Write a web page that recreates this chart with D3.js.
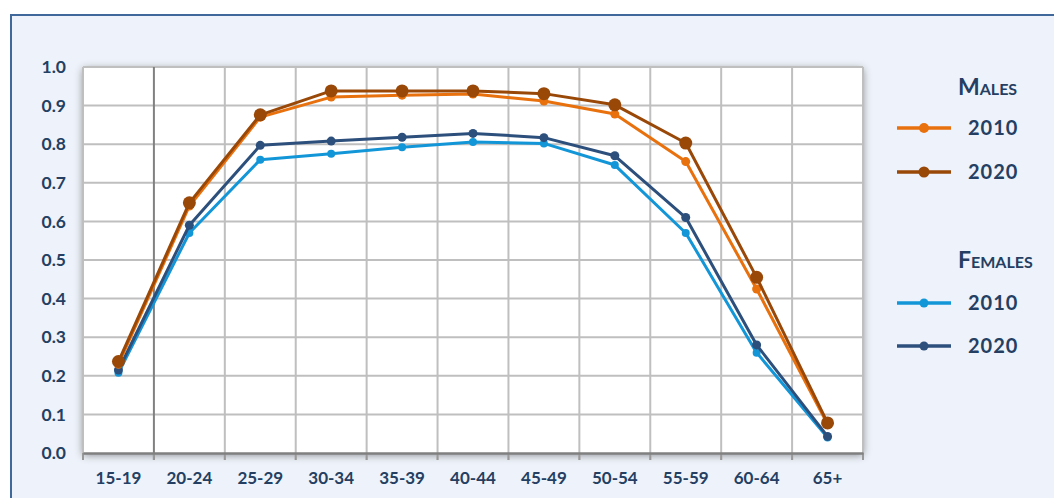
<!DOCTYPE html>
<html><head><meta charset="utf-8">
<script src="https://cdn.jsdelivr.net/npm/d3@7"></script>
<style>
html,body{margin:0;padding:0;background:#fff;}
svg{display:block;font-family:Lato,"Open Sans",sans-serif;}
</style></head>
<body><svg id="c" width="1054" height="498"></svg>
<script>
const categories = ["15-19","20-24","25-29","30-34","35-39","40-44","45-49","50-54","55-59","60-64","65+"];
const males2010   = [0.23, 0.64, 0.87, 0.922, 0.927, 0.93, 0.912, 0.878, 0.755, 0.425, 0.075];
const males2020   = [0.237, 0.648, 0.876, 0.938, 0.938, 0.938, 0.931, 0.902, 0.803, 0.455, 0.078];
const females2010 = [0.208, 0.57, 0.76, 0.775, 0.792, 0.806, 0.802, 0.746, 0.57, 0.26, 0.04];
const females2020 = [0.215, 0.59, 0.797, 0.808, 0.818, 0.828, 0.817, 0.77, 0.61, 0.28, 0.043];
const yTicks = [0,0.1,0.2,0.3,0.4,0.5,0.6,0.7,0.8,0.9,1.0];

const series = [
  {group:"Males", name:"2010", values:males2010, color:"#E8710E", r:4.5, lr:5},
  {group:"Males", name:"2020", values:males2020, color:"#994808", r:6.5, lr:5.5},
  {group:"Females", name:"2010", values:females2010, color:"#1396D8", r:4, lr:4.5},
  {group:"Females", name:"2020", values:females2020, color:"#2C4F7C", r:4.5, lr:4.5}
];

const svg = d3.select("#c");
const textColor = "#243F62";

// outer panel
svg.append("rect").attr("x",11).attr("y",15).attr("width",1060).attr("height",500)
  .attr("fill","#EEF2FA").attr("stroke","#41689A").attr("stroke-width",2);

const defs = svg.append("defs");
const f = defs.append("filter").attr("id","sh").attr("x","-10%").attr("y","-10%").attr("width","120%").attr("height","120%");
f.append("feDropShadow").attr("dx",0).attr("dy",2).attr("stdDeviation",4).attr("flood-color","#000").attr("flood-opacity",0.45);

const L = 83, T = 67, R = 863, B = 453;
const x = d3.scaleBand().domain(categories).range([L,R]).padding(0);
const y = d3.scaleLinear().domain([0,1]).range([B,T]);

svg.append("rect").attr("x",L).attr("y",T).attr("width",R-L).attr("height",B-T)
  .attr("fill","#fff").attr("filter","url(#sh)");

const g = svg.append("g");
g.selectAll(".hg").data(yTicks.slice(1)).join("line")
  .attr("x1",L).attr("x2",R).attr("y1",d=>y(d)).attr("y2",d=>y(d))
  .attr("stroke","#BFBFBF").attr("stroke-width",2);
const bounds = categories.map(c=>x(c)).concat([R]);
g.selectAll(".vg").data(bounds).join("line")
  .attr("x1",d=>d).attr("x2",d=>d).attr("y1",T).attr("y2",B+7)
  .attr("stroke",(d,i)=> i===1 ? "#808080" : "#BFBFBF").attr("stroke-width",2);
const xa = svg.append("g").attr("transform",`translate(0,${B})`)
  .call(d3.axisBottom(x).tickSize(0).tickPadding(19));
xa.select(".domain").attr("stroke","#808080").attr("stroke-width",2.5);
xa.selectAll("text").attr("fill",textColor).attr("font-size",17).attr("font-weight",700)
  .attr("font-family","Lato,'Open Sans',sans-serif");
g.selectAll(".xt").data(bounds).join("line")
  .attr("x1",d=>d).attr("x2",d=>d).attr("y1",B).attr("y2",B+7)
  .attr("stroke","#999").attr("stroke-width",2);

const ya = svg.append("g").attr("transform",`translate(${L},0)`)
  .call(d3.axisLeft(y).tickValues(yTicks).tickFormat(d3.format(".1f")).tickSize(0).tickPadding(17));
ya.select(".domain").remove();
ya.selectAll("text").attr("fill",textColor).attr("font-size",17.5).attr("font-weight",700)
  .attr("font-family","Lato,'Open Sans',sans-serif");

const line = d3.line().x((d,i)=>x(categories[i])+x.bandwidth()/2).y(d=>y(d));
const order = [2,3,0,1];
order.forEach(si=>{
  const s = series[si];
  svg.append("path").datum(s.values).attr("d",line).attr("fill","none")
    .attr("stroke",s.color).attr("stroke-width",3).attr("stroke-linejoin","round");
  svg.append("g").selectAll("circle").data(s.values).join("circle")
    .attr("cx",(d,i)=>x(categories[i])+x.bandwidth()/2).attr("cy",d=>y(d))
    .attr("r",s.r).attr("fill",s.color);
});

const lg = svg.append("g");
const groups = [{name:"Males", y:87, items:[series[0],series[1]], ys:[128,172]},
                {name:"Females", y:260, items:[series[2],series[3]], ys:[303,346]}];
groups.forEach(gr=>{
  lg.append("text").attr("x", 958).attr("y",gr.y+8)
    .attr("fill",textColor).attr("font-size",23).attr("font-weight",700)
    .style("font-variant","small-caps").text(gr.name);
  gr.items.forEach((s,i)=>{
    const yy = gr.ys[i];
    lg.append("line").attr("x1",897).attr("x2",951).attr("y1",yy).attr("y2",yy)
      .attr("stroke",s.color).attr("stroke-width",3.5);
    lg.append("circle").attr("cx",924).attr("cy",yy).attr("r",s.lr).attr("fill",s.color);
    lg.append("text").attr("x",968).attr("y",yy+7).attr("fill",textColor)
      .attr("font-size",20).attr("font-weight",700).attr("letter-spacing",1).text(s.name);
  });
});
</script></body></html>
